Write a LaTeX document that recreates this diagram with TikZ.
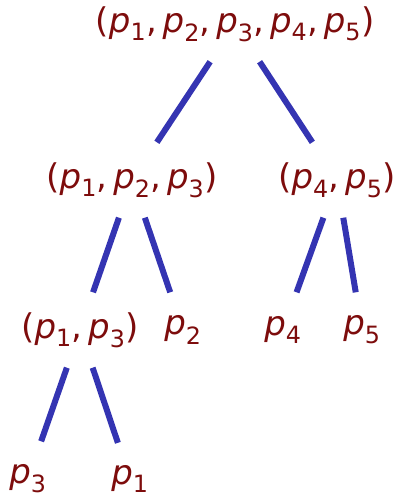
\documentclass[tikz,border=0pt]{standalone}
\usepackage{fontspec}
\setmainfont{DejaVu Sans}
\usetikzlibrary{positioning}
\definecolor{labelred}{RGB}{125,12,12}
\definecolor{branchblue}{RGB}{52,52,178}
\newcommand{\pv}[1]{\textit{p}\textsubscript{#1}}

\begin{document}
\begin{tikzpicture}[x=1pt, y=-1pt,
        lbl/.style={text=labelred, font=\fontsize{34}{40}\selectfont, inner xsep=4pt, inner ysep=0pt, minimum height=75pt},
        branch/.style={draw=branchblue, line width=6pt}
    ]
    \useasboundingbox (0,0) rectangle (396,499);

    % --- nodes ---
    \node[lbl] (root) at (235,24) {(\pv{1},\,\pv{2},\,\pv{3},\,\pv{4},\,\pv{5})};
    \node[lbl] (a) at (132,180) {(\pv{1},\,\pv{2},\,\pv{3})};
    \node[lbl] (b) at (337,180) {(\pv{4},\,\pv{5})};
    \node[lbl] (c) at (80,330) {(\pv{1},\,\pv{3})};
    \node[lbl] (q2) at (183,330) {\pv{2}};
    \node[lbl] (q4) at (283,330) {\pv{4}};
    \node[lbl] (q5) at (362,330) {\pv{5}};
    \node[lbl] (q3) at (28,479) {\pv{3}};
    \node[lbl, minimum height=72pt] (q1) at (130,479) {\pv{1}};

    % --- branches ---
    \draw[branch] (root) -- (a);
    \draw[branch] (root) -- (b);
    \draw[branch] (a) -- (c);
    \draw[branch] (a) -- (q2);
    \draw[branch] (b) -- (q4);
    \draw[branch] (b) -- (q5);
    \draw[branch] (c) -- (q3);
    \draw[branch] (c) -- (q1);
\end{tikzpicture}
\end{document}
